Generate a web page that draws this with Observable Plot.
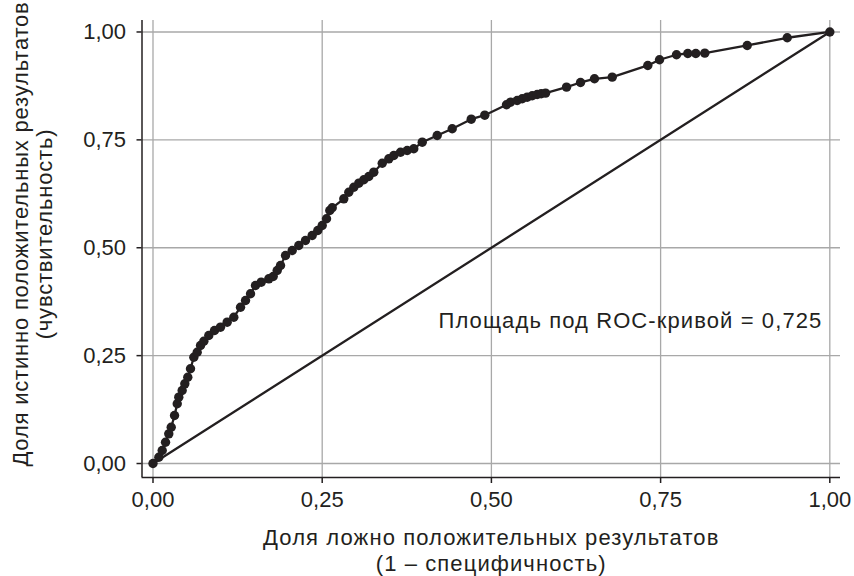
<!DOCTYPE html>
<html>
<head>
<meta charset="utf-8">
<script src="https://cdn.jsdelivr.net/npm/d3@7"></script>
<script src="https://cdn.jsdelivr.net/npm/@observablehq/plot@0.6"></script>
<style>
  html, body { margin: 0; padding: 0; background: #fff; }
  svg { display: block; }
</style>
</head>
<body>
<div id="chart"></div>
<script>
// ROC curve points (1 - specificity, sensitivity)
const fpr = [0, 0.0086, 0.0136, 0.0185, 0.0233, 0.0269, 0.0318, 0.0358, 0.0381, 0.0431,
  0.0470, 0.0514, 0.0554, 0.0603, 0.0653, 0.0702, 0.0751, 0.0824, 0.0909, 0.0997,
  0.1096, 0.1194, 0.1293, 0.1367, 0.1441, 0.1514, 0.1599, 0.1711, 0.1776, 0.1835,
  0.1884, 0.1958, 0.2057, 0.2154, 0.2253, 0.2352, 0.2435, 0.2500, 0.2564, 0.2612,
  0.2648, 0.2819, 0.2893, 0.2967, 0.3041, 0.3115, 0.3189, 0.3262, 0.3387, 0.3484,
  0.3558, 0.3657, 0.3756, 0.3853, 0.3978, 0.4199, 0.4421, 0.4702, 0.4902, 0.5223,
  0.5282, 0.5381, 0.5455, 0.5529, 0.5603, 0.5677, 0.5736, 0.5800, 0.6110, 0.6317,
  0.6523, 0.6785, 0.7311, 0.7484, 0.7735, 0.7902, 0.8020, 0.8153, 0.8780, 0.9371, 1];
const tpr = [0, 0.0146, 0.0301, 0.0494, 0.0688, 0.0841, 0.1112, 0.1384, 0.1537, 0.1692,
  0.1847, 0.2000, 0.2195, 0.2463, 0.2579, 0.2735, 0.2834, 0.2966, 0.3082, 0.3159,
  0.3275, 0.3390, 0.3622, 0.3777, 0.3933, 0.4125, 0.4202, 0.4280, 0.4334, 0.4473,
  0.4589, 0.4820, 0.4936, 0.5052, 0.5168, 0.5284, 0.5400, 0.5516, 0.5671, 0.5863,
  0.5926, 0.6134, 0.6287, 0.6403, 0.6496, 0.6575, 0.6651, 0.6751, 0.6959, 0.7061,
  0.7138, 0.7214, 0.7254, 0.7293, 0.7446, 0.7601, 0.7757, 0.7979, 0.8072, 0.8313,
  0.8373, 0.8413, 0.8452, 0.8489, 0.8522, 0.8552, 0.8568, 0.8582, 0.8721, 0.8830,
  0.8915, 0.8953, 0.9224, 0.9356, 0.9472, 0.9502, 0.9502, 0.9509, 0.9687, 0.9866, 1];

const diagX = [0, 1];
const diagY = [0, 1];

const tickValues = [0, 0.25, 0.5, 0.75, 1];
const tickLabels = ["0,00", "0,25", "0,50", "0,75", "1,00"];

const xTitle = "Доля ложно положительных результатов\n(1 – специфичность)";
const yTitle = "Доля истинно положительных результатов\n(чувствительность)";
const aucText = "Площадь под ROC-кривой = 0,725";
const aucPos = { x: 0.4218, y: 0.3302 };

const roc = fpr.map((x, i) => ({ x, y: tpr[i] }));
const diag = diagX.map((x, i) => ({ x, y: diagY[i] }));
const fmt = v => tickLabels[tickValues.indexOf(v)];

const xDomain = [-0.01625, 1.0158];
const yDomain = [-0.0324, 1.0266];
const ink = "#231f20";
const gridColor = "#a8a8a8";

const chart = Plot.plot({
  width: 854,
  height: 576,
  marginLeft: 141.5,
  marginRight: 14,
  marginTop: 20,
  marginBottom: 99,
  style: { fontFamily: "'Liberation Sans', Arial, sans-serif", color: ink, background: "#fff" },
  x: { domain: xDomain },
  y: { domain: yDomain },
  marks: [
    Plot.gridX(tickValues, { stroke: gridColor, strokeOpacity: 1, strokeWidth: 1.3 }),
    Plot.gridY(tickValues, { stroke: gridColor, strokeOpacity: 1, strokeWidth: 1.3 }),
    Plot.axisX(tickValues, { tickFormat: fmt, tickSize: 6, tickPadding: 8, fontSize: 22, label: null, stroke: ink, strokeWidth: 1.5 }),
    Plot.axisY(tickValues, { tickFormat: fmt, tickSize: 5, tickPadding: 11, fontSize: 22, label: null, stroke: ink, strokeWidth: 1.5 }),
    Plot.ruleX([xDomain[0]], { stroke: ink, strokeWidth: 1.5 }),
    Plot.ruleY([yDomain[0]], { stroke: ink, strokeWidth: 1.5 }),
    Plot.line(diag, { x: "x", y: "y", stroke: ink, strokeWidth: 2.3 }),
    Plot.line(roc, { x: "x", y: "y", stroke: ink, strokeWidth: 2.3 }),
    Plot.dot(roc, { x: "x", y: "y", r: 4.7, fill: ink, stroke: "none" }),
    Plot.text([aucText], { x: aucPos.x, y: aucPos.y, text: d => d, textAnchor: "start", lineAnchor: "middle", fontSize: 22, fill: ink }),
    Plot.text([xTitle], { frameAnchor: "bottom", text: d => d, textAnchor: "middle", dy: 50, lineAnchor: "top", lineHeight: 1.15, fontSize: 22, fill: ink }),
    Plot.text([yTitle], { frameAnchor: "left", text: d => d, rotate: -90, textAnchor: "middle", dx: -131, dy: -15, lineAnchor: "top", lineHeight: 1.1, fontSize: 22, fill: ink })
  ]
});
// the reference typeface sets Cyrillic slightly wider than Arial metrics
const textGroups = chart.querySelectorAll('g[aria-label="text"]');
textGroups.forEach((g, i) => {
  const spacing = i === textGroups.length - 1 ? "0.8px" : "1.1px";
  g.querySelectorAll("text").forEach(t => t.style.letterSpacing = spacing);
});
document.getElementById("chart").appendChild(chart);
</script>
</body>
</html>
